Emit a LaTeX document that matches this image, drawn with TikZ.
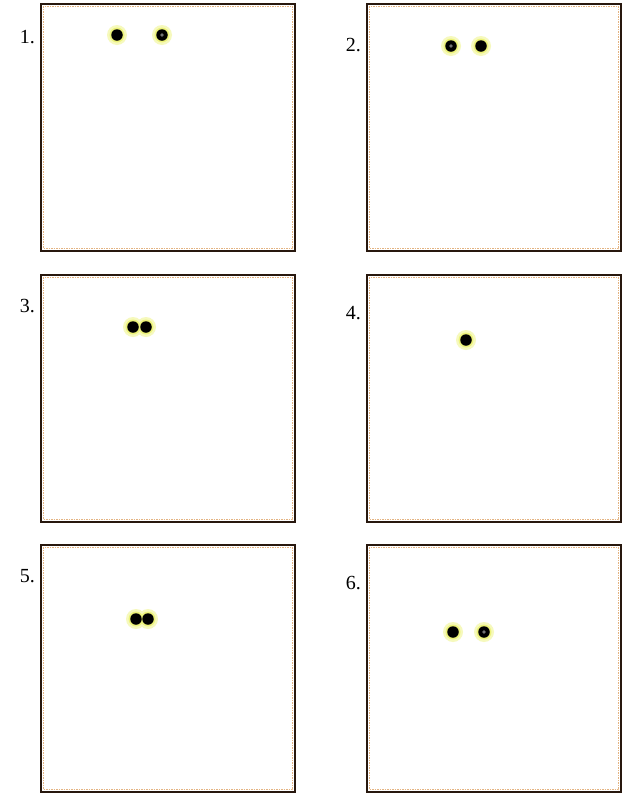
\documentclass[tikz,border=0pt]{standalone}
\usepackage{fontspec}
\setmainfont{Liberation Serif}
\definecolor{framebrown}{RGB}{40,24,14}
\definecolor{edgebeige}{RGB}{228,180,130}
\definecolor{glowy}{RGB}{232,240,90}
\begin{document}
\begin{tikzpicture}[x=1pt,y=-1pt,
  lbl/.style={font=\fontsize{20}{20}\selectfont,anchor=base east,inner sep=0pt},
  glow/.style={circle,minimum size=20pt,inner sep=0pt,fill=glowy!40},
  glowcore/.style={circle,minimum size=15pt,inner sep=0pt,fill=glowy!80},
  solid dot/.style={circle,minimum size=11.5pt,inner sep=0pt,fill=black},
  ring dot/.style={circle,minimum size=11.5pt,inner sep=0pt,fill=black,
    path picture={\fill[black!55] (path picture bounding box.center) circle (1.8pt);}}
]
\useasboundingbox (0,0) rectangle (624,793);
\fill[white] (0,0) rectangle (624,793);

% panels
\foreach \x/\y in {41/4, 367/4, 41/275, 367/275, 41/545, 367/545}{
  \draw[draw=edgebeige,line width=1.6pt,dash pattern=on 1.5pt off 1pt] (\x+2.4,\y+2.4) rectangle (\x+251.6,\y+244.6);
  \draw[draw=framebrown,line width=2.2pt] (\x,\y) rectangle (\x+254,\y+247);
}

% labels
\node[lbl] (l1) at (35,43) {1.};
\node[lbl] (l2) at (361,51) {2.};
\node[lbl] (l3) at (35,312) {3.};
\node[lbl] (l4) at (361,319) {4.};
\node[lbl] (l5) at (35,582) {5.};
\node[lbl] (l6) at (361,589) {6.};

% glows
\foreach \p in {(117,35),(162,35),(451,46),(481,46),(133,327),(146,327),(466,340),(136,619),(148,619),(453,632),(484,632)}
  \node[glow] at \p {};
\foreach \p in {(117,35),(162,35),(451,46),(481,46),(133,327),(146,327),(466,340),(136,619),(148,619),(453,632),(484,632)}
  \node[glowcore] at \p {};

% dots
\node[solid dot] (a1) at (117,35) {};
\node[ring dot] (b1) at (162,35) {};
\node[ring dot] (a2) at (451,46) {};
\node[solid dot] (b2) at (481,46) {};
\node[solid dot] (a3) at (133,327) {};
\node[solid dot] (b3) at (146,327) {};
\node[solid dot] (a4) at (466,340) {};
\node[solid dot] (a5) at (136,619) {};
\node[solid dot] (b5) at (148,619) {};
\node[solid dot] (a6) at (453,632) {};
\node[ring dot] (b6) at (484,632) {};
\end{tikzpicture}
\end{document}
